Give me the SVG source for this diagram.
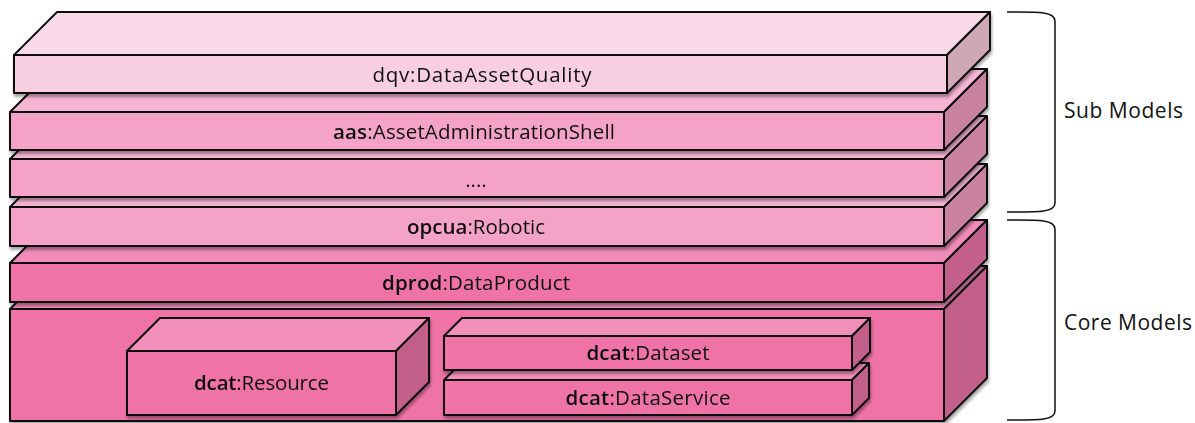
<svg xmlns="http://www.w3.org/2000/svg" width="1195" height="423" viewBox="0 0 1195 423">
  <defs>
    <filter id="shadow" x="-5%" y="-20%" width="110%" height="150%">
      <feDropShadow dx="1" dy="3" stdDeviation="1.6" flood-color="#000" flood-opacity="0.35"/>
    </filter>
    <style>
      .box path { stroke: #111; stroke-width: 2; stroke-linejoin: round; }
      .box { filter: url(#shadow); }
      .pale .front { fill: #f8cee1; }
      .pale .top { fill: #f9d9e7; }
      .pale .side { fill: #cfa8b8; }
      .mid .front { fill: #f4a2c7; }
      .mid .top { fill: #f5b4d2; }
      .mid .side { fill: #c9839f; }
      .deep .front { fill: #ef73a7; }
      .deep .top { fill: #f08bb8; }
      .deep .side { fill: #c25f8a; }
      .inner .front { fill: #ef73a7; }
      .inner .top { fill: #f38fbb; }
      .inner .side { fill: #c25f8a; }
      .label { font-family: "Open Sans", "Liberation Sans", sans-serif; font-size: 20.5px; fill: #111; text-anchor: middle; }
      .label .ns { font-weight: 600; }
      .brace { fill: none; stroke: #111; stroke-width: 1.5; }
      .group-label { font-family: "Open Sans", "Liberation Sans", sans-serif; font-size: 21px; fill: #111; }
    </style>
  </defs>

  <!-- layers are painted bottom-up so each slab covers the top face of the one beneath -->
  <g id="layer-core" class="box deep">
    <path class="top" d="M10,309 L53,266 L987,266 L944,309 Z"/>
    <path class="side" d="M944,309 L987,266 L987,378 L944,421 Z"/>
    <path class="front" d="M10,309 L944,309 L944,421 L10,421 Z"/>
  </g>

  <g id="dcat-resource" class="box inner">
    <path class="top" d="M127,351 L160,318 L429,318 L396,351 Z"/>
    <path class="side" d="M396,351 L429,318 L429,382 L396,415 Z"/>
    <path class="front" d="M127,351 L396,351 L396,415 L127,415 Z"/>
    <text class="label" x="261.5" y="390" textLength="135" lengthAdjust="spacing"><tspan class="ns">dcat</tspan>:Resource</text>
  </g>

  <g id="dcat-dataservice" class="box inner">
    <path class="top" d="M444,380 L461,363 L869,363 L852,380 Z"/>
    <path class="side" d="M852,380 L869,363 L869,398 L852,415 Z"/>
    <path class="front" d="M444,380 L852,380 L852,415 L444,415 Z"/>
    <text class="label" x="648" y="405" textLength="165" lengthAdjust="spacing"><tspan class="ns">dcat</tspan>:DataService</text>
  </g>

  <g id="dcat-dataset" class="box inner">
    <path class="top" d="M444,336 L462,318 L870,318 L852,336 Z"/>
    <path class="side" d="M852,336 L870,318 L870,352 L852,370 Z"/>
    <path class="front" d="M444,336 L852,336 L852,370 L444,370 Z"/>
    <text class="label" x="648" y="360" textLength="123" lengthAdjust="spacing"><tspan class="ns">dcat</tspan>:Dataset</text>
  </g>

  <g id="dprod-dataproduct" class="box deep">
    <path class="top" d="M10,263 L53,220 L987,220 L944,263 Z"/>
    <path class="side" d="M944,263 L987,220 L987,259 L944,302 Z"/>
    <path class="front" d="M10,263 L944,263 L944,302 L10,302 Z"/>
    <text class="label" x="476" y="290" textLength="188" lengthAdjust="spacing"><tspan class="ns">dprod</tspan>:DataProduct</text>
  </g>

  <g id="opcua-robotic" class="box mid">
    <path class="top" d="M10,207 L53,164 L987,164 L944,207 Z"/>
    <path class="side" d="M944,207 L987,164 L987,203 L944,246 Z"/>
    <path class="front" d="M10,207 L944,207 L944,246 L10,246 Z"/>
    <text class="label" x="476" y="234" textLength="138" lengthAdjust="spacing"><tspan class="ns">opcua</tspan>:Robotic</text>
  </g>

  <g id="more-submodels" class="box mid">
    <path class="top" d="M10,159 L53,116 L987,116 L944,159 Z"/>
    <path class="side" d="M944,159 L987,116 L987,154 L944,197 Z"/>
    <path class="front" d="M10,159 L944,159 L944,197 L10,197 Z"/>
    <text class="label" x="476" y="187">....</text>
  </g>

  <g id="aas-shell" class="box mid">
    <path class="top" d="M10,112 L53,69 L987,69 L944,112 Z"/>
    <path class="side" d="M944,112 L987,69 L987,107 L944,150 Z"/>
    <path class="front" d="M10,112 L944,112 L944,150 L10,150 Z"/>
    <text class="label" x="474" y="139" textLength="282" lengthAdjust="spacing"><tspan class="ns">aas</tspan>:AssetAdministrationShell</text>
  </g>

  <g id="dqv-quality" class="box pale">
    <path class="top" d="M14,55 L57,12 L990,12 L947,55 Z"/>
    <path class="side" d="M947,55 L990,12 L990,50 L947,93 Z"/>
    <path class="front" d="M14,55 L947,55 L947,93 L14,93 Z"/>
    <text class="label" x="482" y="82" textLength="219" lengthAdjust="spacing">dqv:DataAssetQuality</text>
  </g>

  <!-- grouping brackets -->
  <g id="brackets">
    <path class="brace" d="M1007,12 C1035,12 1055,11 1055,21 L1055,203 C1055,213 1035,212 1007,212"/>
    <path class="brace" d="M1007,220 C1035,220 1055,219 1055,229 L1055,411 C1055,421 1035,420 1007,420"/>
  </g>

  <g id="group-sub">
    <text class="group-label" x="1064" y="118" textLength="119" lengthAdjust="spacing">Sub Models</text>
  </g>
  <g id="group-core">
    <text class="group-label" x="1064" y="330" textLength="128" lengthAdjust="spacing">Core Models</text>
  </g>
</svg>
